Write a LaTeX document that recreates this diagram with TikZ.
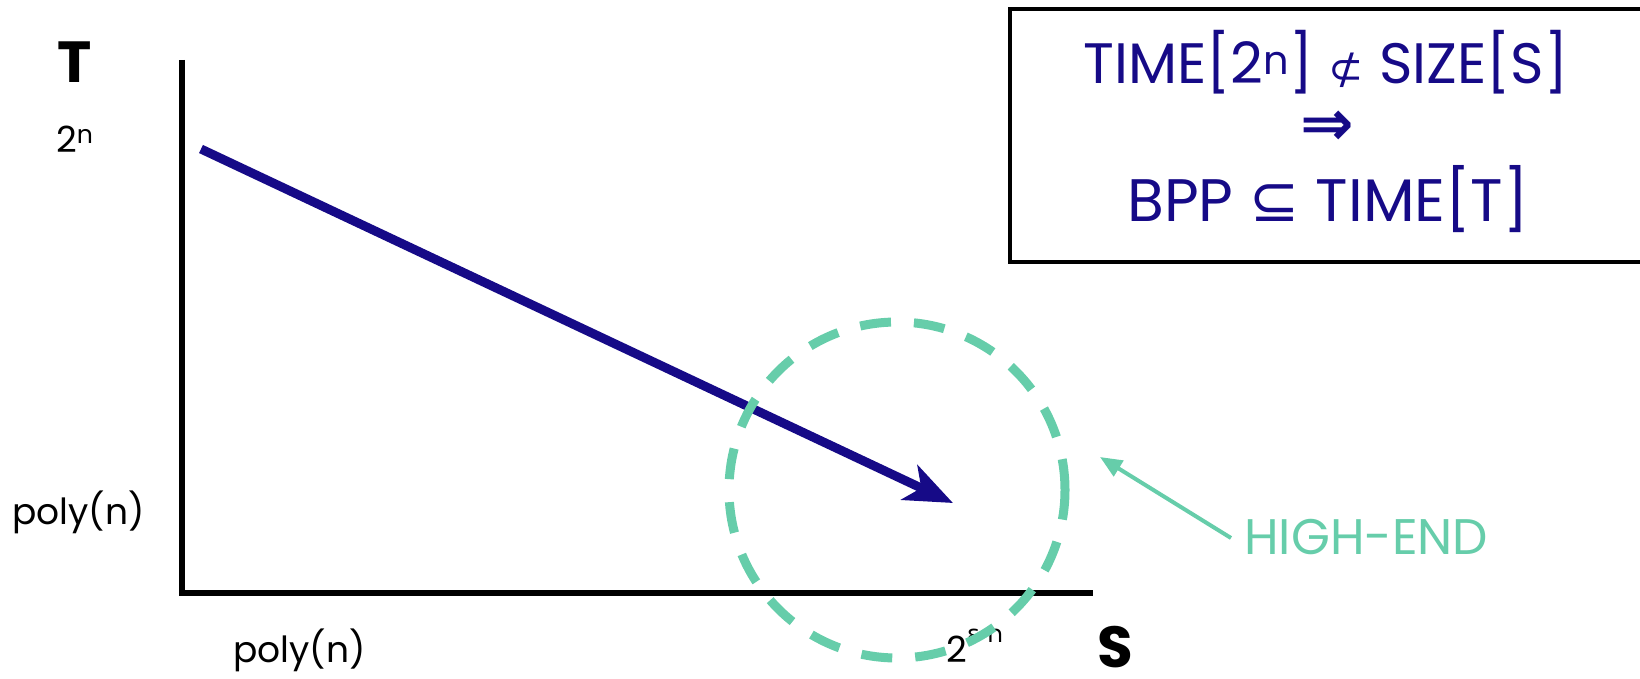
\documentclass[tikz,border=0pt]{standalone}
\usepackage{fontspec}
\setmainfont{Poppins}
\newfontfamily\symfont{DejaVu Sans}
\usetikzlibrary{arrows.meta}
\definecolor{navy}{RGB}{22,10,135}
\definecolor{mint}{RGB}{102,205,170}
\tikzset{
  axis/.style={line width=6.5pt, black},
  lbl/.style={inner sep=0pt, font=\fontsize{36}{40}\selectfont},
  axlbl/.style={inner sep=0pt, font=\fontsize{58}{60}\selectfont\bfseries},
  mainarrow/.style={navy, line width=9pt, -{Stealth[length=48pt,width=38pt,inset=13pt]}},
  hlcircle/.style={circle, draw=mint, line width=9pt, dash pattern=on 31pt off 23pt, minimum size=336pt, inner sep=0pt},
  notearrow/.style={mint, line width=4pt, -{Triangle[length=22pt,width=18pt]}},
  boxtext/.style={inner sep=0pt, text=navy, font=\fontsize{60}{68}\selectfont}
}
\begin{document}
\begin{tikzpicture}[x=1pt,y=-1pt]
\useasboundingbox (0,0) rectangle (1640,679);
% axes
\coordinate (Ttop) at (182,60);
\coordinate (O) at (182,593);
\coordinate (Send) at (1093,593);
\draw[axis] (Ttop) -- (O) -- (Send);
% labels
\node[axlbl] (T) at (75,62) {T};
\node[axlbl, anchor=base] (S) at (1115,667) {S};
\node[lbl, anchor=base west] (t2n) at (56,153) {2\textsuperscript{n}};
\node[lbl, anchor=base west] (tpoly) at (12,524) {poly(n)};
\node[lbl, anchor=base west] (spoly) at (233,662) {poly(n)};
\node[lbl, anchor=base west] (s2en) at (946,662) {2\raisebox{0.55em}{\fontsize{24}{24}\selectfont{\symfont ε·}n}};
% main arrow
\coordinate (a1) at (201,149);
\coordinate (a2) at (953,503);
\draw[mainarrow] (a1) -- (a2);
% circle
\node[hlcircle] (hc) at (897,490) {};
% box
\draw[line width=3.5pt, black] (1660,9) -- (1010,9) -- (1010,262) -- (1660,262);
\node[boxtext, anchor=base, font=\fontsize{57}{68}\selectfont] (claim1) at (1326,84) {TIME[2\textsuperscript{n}] {\symfont\fontsize{42}{42}\selectfont ⊄} SIZE[S]};
\node[boxtext, font=\symfont\bfseries\fontsize{64}{64}\selectfont] (implies) at (1327,128) {⇒};
\node[boxtext, anchor=base] (claim2) at (1328,222) {BPP {\symfont ⊆} TIME[T]};
% high-end note
\node[inner sep=0pt, anchor=west, text=mint, font=\fontsize{50}{54}\selectfont] (he) at (1244,537) {HIGH-END};
\coordinate (hetip) at (1100,457);
\draw[notearrow] (1231,538) -- (hetip);
\end{tikzpicture}
\end{document}
